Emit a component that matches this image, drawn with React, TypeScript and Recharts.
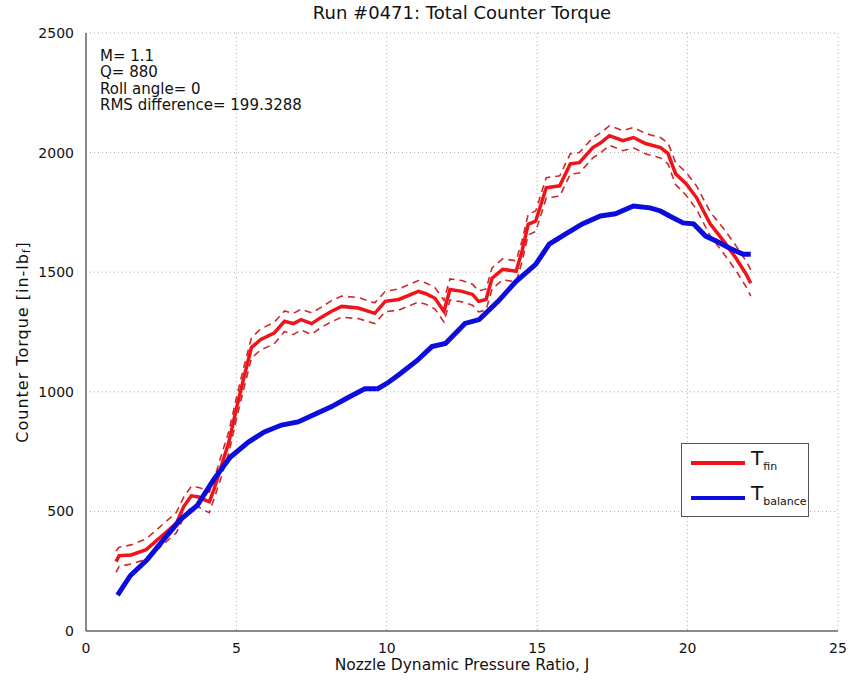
import React from "react";
import { LineChart, Line, XAxis, YAxis, CartesianGrid, Label } from "recharts";

// J values where the fin torque and its band were read
const finJ = [1.0, 1.1, 1.5, 2.0, 2.5, 3.0, 3.25, 3.5, 3.75, 4.0, 4.1, 4.25, 4.5, 4.75, 5.0, 5.25, 5.5, 5.8, 6.25, 6.6, 6.9, 7.15, 7.5, 7.8, 8.15, 8.5, 9.05, 9.6, 9.95, 10.4, 11.05, 11.3, 11.6, 11.9, 12.1, 12.5, 12.85, 13.05, 13.3, 13.5, 13.85, 14.3, 14.5, 14.7, 14.95, 15.3, 15.75, 16.1, 16.4, 16.85, 17.1, 17.4, 17.85, 18.2, 18.6, 19.1, 19.35, 19.6, 19.95, 20.3, 20.75, 21.2, 21.6, 21.95, 22.1];
const finMid = [290, 315, 318, 340, 395, 450, 520, 565, 560, 545, 540, 590, 690, 790, 930, 1060, 1185, 1218, 1245, 1295, 1285, 1302, 1285, 1310, 1336, 1357, 1350, 1328, 1378, 1386, 1420, 1410, 1391, 1336, 1428, 1420, 1407, 1378, 1386, 1475, 1512, 1504, 1590, 1700, 1714, 1853, 1861, 1953, 1958, 2021, 2040, 2071, 2050, 2063, 2038, 2021, 1996, 1912, 1870, 1811, 1702, 1630, 1560, 1491, 1454];
const finUpper = [335, 350, 360, 385, 440, 495, 560, 605, 600, 590, 580, 630, 735, 835, 975, 1105, 1225, 1262, 1290, 1338, 1328, 1345, 1330, 1352, 1380, 1400, 1394, 1372, 1420, 1430, 1465, 1455, 1436, 1382, 1472, 1465, 1450, 1422, 1430, 1518, 1556, 1548, 1634, 1742, 1756, 1895, 1903, 1995, 2000, 2062, 2082, 2112, 2092, 2105, 2080, 2063, 2040, 1958, 1918, 1860, 1752, 1682, 1612, 1545, 1510];
const finLower = [245, 270, 280, 300, 355, 410, 475, 520, 518, 500, 495, 550, 645, 745, 885, 1015, 1140, 1175, 1200, 1252, 1240, 1258, 1240, 1268, 1292, 1312, 1306, 1285, 1335, 1342, 1375, 1366, 1346, 1292, 1384, 1376, 1362, 1334, 1342, 1430, 1468, 1460, 1546, 1656, 1670, 1810, 1818, 1910, 1915, 1978, 1998, 2030, 2008, 2020, 1995, 1978, 1952, 1866, 1822, 1762, 1652, 1578, 1508, 1438, 1400];

// balance torque
const balJ = [1.05, 1.47, 2.03, 2.58, 3.14, 3.7, 4.25, 4.8, 5.4, 5.93, 6.5, 7.05, 7.5, 8.15, 8.7, 9.27, 9.7, 10.0, 10.4, 11.0, 11.5, 11.95, 12.6, 13.07, 13.7, 14.3, 14.95, 15.4, 15.95, 16.5, 17.1, 17.6, 18.2, 18.75, 19.1, 19.4, 19.85, 20.2, 20.6, 20.95, 21.4, 21.85, 22.1];
const balance = [150, 231, 298, 382, 466, 525, 634, 727, 790, 832, 861, 874, 900, 937, 975, 1013, 1013, 1035, 1071, 1130, 1189, 1202, 1286, 1302, 1378, 1462, 1533, 1617, 1660, 1702, 1735, 1744, 1777, 1769, 1756, 1735, 1706, 1702, 1651, 1630, 1600, 1575, 1575];

const xTicks = [0, 5, 10, 15, 20, 25];
const yTicks = [0, 500, 1000, 1500, 2000, 2500];
const notes = ["M= 1.1", "Q= 880", "Roll angle= 0", "RMS difference= 199.3288"];

const finData = finJ.map((j, i) => ({ j, mid: finMid[i], up: finUpper[i], lo: finLower[i] }));
const balData = balJ.map((j, i) => ({ j, bal: balance[i] }));

const FONT = "'DejaVu Sans', sans-serif";
const RED = "#f0141a";
const RED_DASH = "#cc2a2a";
const BLUE = "#0c0cdc";

const YLabel = ({ viewBox }: any) => {
  const cx = 22;
  const cy = viewBox ? viewBox.y + viewBox.height / 2 + 10 : 342;
  return (
    <text x={cx} y={cy} transform={`rotate(-90 ${cx} ${cy})`} textAnchor="middle" dominantBaseline="central" fontFamily={FONT} fontSize={16} letterSpacing={1} fill="#111">
      Counter Torque [in-lb<tspan fontSize={10} dy={4}>f</tspan><tspan dy={-4}>]</tspan>
    </text>
  );
};

export default function App() {
  return (
    <div style={{ position: "absolute", left: 0, top: 0, width: 851, height: 685, background: "#fff", fontFamily: FONT }}>
      <div style={{ position: "absolute", left: 86, width: 752, top: 2, textAlign: "center", fontSize: 18, color: "#111" }}>
        Run #0471: Total Counter Torque
      </div>
      <LineChart width={851} height={685} margin={{ top: 33, right: 13, bottom: 0, left: 0 }}>
        <CartesianGrid stroke="#aaa" strokeDasharray="1 3" />
        <XAxis
          type="number"
          dataKey="j"
          domain={[0, 25]}
          ticks={xTicks}
          allowDuplicatedCategory={false}
          height={54}
          stroke="#666"
          strokeWidth={1.5}
          tickLine={false}
          tickMargin={6}
          tick={{ fill: "#111", fontSize: 14, fontFamily: FONT }}
        >
          <Label value="Nozzle Dynamic Pressure Ratio, J" position="insideBottom" offset={15} style={{ fill: "#111", fontSize: 15.5, fontFamily: FONT }} />
        </XAxis>
        <YAxis
          type="number"
          domain={[0, 2500]}
          ticks={yTicks}
          width={86}
          stroke="#666"
          strokeWidth={1.5}
          tickLine={false}
          tickMargin={6}
          tick={{ fill: "#111", fontSize: 14, fontFamily: FONT }}
        >
          <Label content={<YLabel />} />
        </YAxis>
        <Line data={finData} dataKey="up" stroke={RED_DASH} strokeWidth={1.6} strokeDasharray="7 5" dot={false} isAnimationActive={false} />
        <Line data={finData} dataKey="lo" stroke={RED_DASH} strokeWidth={1.6} strokeDasharray="7 5" dot={false} isAnimationActive={false} />
        <Line data={finData} dataKey="mid" stroke={RED} strokeWidth={3.5} dot={false} isAnimationActive={false} />
        <Line data={balData} dataKey="bal" stroke={BLUE} strokeWidth={5} dot={false} isAnimationActive={false} />
      </LineChart>
      <div style={{ position: "absolute", left: 100, top: 48, fontSize: 15, lineHeight: "16.3px", color: "#111" }}>
        {notes.map((n) => (
          <div key={n}>{n}</div>
        ))}
      </div>
      <div style={{ position: "absolute", left: 681, top: 443, width: 126, height: 72, border: "1.5px solid #555", background: "#fff" }}>
        <div style={{ position: "absolute", left: 9, top: 17, width: 54, height: 4, background: RED }} />
        <div style={{ position: "absolute", left: 69, top: 2, fontSize: 20, color: "#111" }}>
          T<sub style={{ fontSize: 11 }}>fin</sub>
        </div>
        <div style={{ position: "absolute", left: 9, top: 52, width: 54, height: 4, background: BLUE }} />
        <div style={{ position: "absolute", left: 69, top: 37, fontSize: 20, color: "#111" }}>
          T<sub style={{ fontSize: 11 }}>balance</sub>
        </div>
      </div>
    </div>
  );
}
